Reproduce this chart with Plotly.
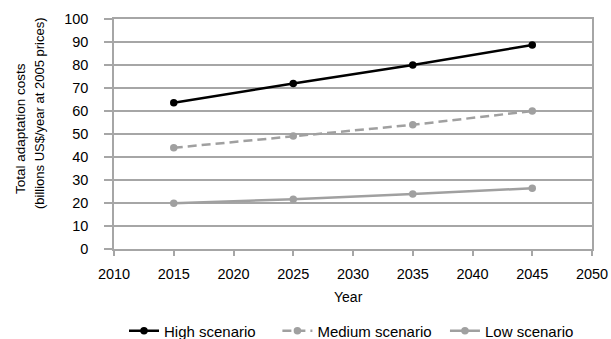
import plotly.graph_objects as go

years = [2015, 2025, 2035, 2045]
high = [63.6, 72.0, 80.0, 88.7]
medium = [44.0, 49.1, 54.0, 60.0]
low = [19.9, 21.6, 23.9, 26.4]
names = ["High scenario", "Medium scenario", "Low scenario"]

FONT = "Liberation Sans, Arial, sans-serif"
GRAY = "#A6A6A6"
NB = "\u00a0"

fig = go.Figure()
fig.add_trace(go.Scatter(x=years, y=high, name=names[0] + NB * 4, mode="lines+markers",
                         line=dict(color="#000000", width=2.5),
                         marker=dict(color="#000000", size=7.5)))
fig.add_trace(go.Scatter(x=years, y=medium, name=names[1] + NB * 2, mode="lines+markers",
                         line=dict(color="#A0A0A0", width=2.5, dash="9px,5px"),
                         marker=dict(color="#A0A0A0", size=7.5)))
fig.add_trace(go.Scatter(x=years, y=low, name=names[2], mode="lines+markers",
                         line=dict(color="#A0A0A0", width=2.5),
                         marker=dict(color="#A0A0A0", size=7.5)))

W, H = 611, 339
L, T, R, B = 114, 19, 19, 90
PW, PH = W - L - R, H - T - B

fig.update_layout(
    width=W, height=H,
    margin=dict(l=L, r=R, t=T, b=B, autoexpand=False),
    plot_bgcolor="white", paper_bgcolor="white",
    font=dict(family=FONT, size=14, color="#000000"),
    showlegend=True,
    legend=dict(orientation="h", x=124 / W, xanchor="left", xref="container",
                y=1 - 331 / H, yanchor="middle", yref="container", font=dict(size=15),
                itemwidth=30, traceorder="normal"),
    xaxis=dict(range=[2010, 2050], tick0=2010, dtick=5, showgrid=False,
               showline=True, linecolor=GRAY, linewidth=1.5, mirror=True,
               ticks="outside", ticklen=5, tickcolor=GRAY, tickwidth=1.5,
               tickfont=dict(size=14.5), ticklabelstandoff=6,
               zeroline=False, automargin=False),
    yaxis=dict(range=[0, 100], dtick=10, showgrid=True, gridcolor=GRAY, gridwidth=1.5,
               showline=True, linecolor=GRAY, linewidth=1.5, mirror=True,
               ticks="outside", ticklen=8, tickcolor=GRAY, tickwidth=1.5,
               tickfont=dict(size=14.5), ticklabelstandoff=13,
               zeroline=False, automargin=False),
    annotations=[
        dict(text="Total adaptation costs", textangle=-90, xref="paper", yref="paper",
             x=(20 - L) / PW, y=(T + PH - 129) / PH, xanchor="center", yanchor="middle",
             showarrow=False, font=dict(size=13.5)),
        dict(text="(billions US$/year at 2005 prices)", textangle=-90, xref="paper", yref="paper",
             x=(40 - L) / PW, y=(T + PH - 114) / PH, xanchor="center", yanchor="middle",
             showarrow=False, font=dict(size=13)),
        dict(text="Year", xref="paper", yref="paper",
             x=(348.5 - L) / PW, y=(T + PH - 296.5) / PH, xanchor="center", yanchor="middle",
             showarrow=False, font=dict(size=14)),
    ],
)

fig.write_html("out.html", config={"displayModeBar": False},
               post_script="document.body.style.margin='0';")
